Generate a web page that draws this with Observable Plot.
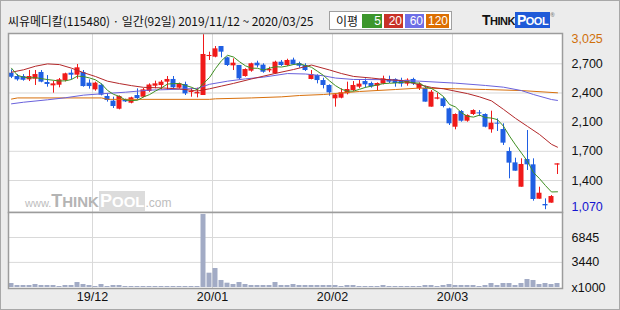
<!DOCTYPE html>
<html>
<head>
<meta charset="utf-8">
<script src="https://cdn.jsdelivr.net/npm/d3@7"></script>
<script src="https://cdn.jsdelivr.net/npm/@observablehq/plot@0.6"></script>
<style>
  html, body { margin: 0; padding: 0; background: #ececec; }
  #wrap { position: relative; width: 620px; height: 310px; background: #ececec; overflow: hidden; font-family: "Noto Sans CJK KR", sans-serif; }
  #wrap svg { position: absolute; left: 0; }
  .abs { position: absolute; }
  #title { left: 8px; top: 12px; font-size: 12px; color: #111; white-space: nowrap; letter-spacing: -0.1px; }
  #legend { left: 329px; top: 11px; width: 121px; height: 17px; background: #fff; border: 1px solid #a0a0a0; }
  #legend .lab { position: absolute; left: 6px; top: 0px; font-size: 12px; line-height: 17px; color: #111; }
  #legend .b { position: absolute; top: 2px; height: 14px; font: 12px "Liberation Sans", sans-serif; line-height: 14px; color: #fff; text-align: right; padding-right: 1px; box-sizing: border-box; }
  #logo { left: 482px; top: 12px; font: bold 14px "Liberation Sans", sans-serif; white-space: nowrap; }
  #wm { left: 25px; top: 192px; white-space: nowrap; color: #bdbdbd; font-family: "Liberation Sans", sans-serif; line-height: 18px; }
  #border { left: 0; top: 0; width: 618px; height: 308px; border: 1px solid #a8a8a8; pointer-events: none; }
</style>
</head>
<body>
<div id="wrap">
  <div id="title" class="abs">씨유메디칼(115480) · 일간(92일) 2019/11/12 ~ 2020/03/25</div>
  <div id="legend" class="abs"></div>
  <div id="logo" class="abs"><span style="color:#111;letter-spacing:-0.5px">T<span style="font-size:11px">HINK</span></span><span style="background:#1f5ad8;color:#fff;padding:0 2px;letter-spacing:-0.5px">P<span style="font-size:11px">OOL</span></span><span style="font-size:6px;color:#888;vertical-align:top">®</span></div>
</div>
<script>
// ---- data ----
const opens  = [2594,2557,2557,2520,2527,2602,2490,2453,2460,2512,2594,2572,2602,2483,2408,2460,2334,2282,2192,2296,2259,2345,2326,2390,2449,2456,2494,2524,2427,2468,2378,2363,2345,2780,2773,2892,2766,2676,2680,2557,2617,2706,2684,2620,2587,2717,2680,2740,2702,2680,2524,2568,2512,2457,2308,2315,2364,2401,2438,2501,2479,2449,2472,2524,2524,2512,2472,2524,2420,2425,2215,2304,2308,2196,1991,2166,2058,2133,2151,2133,1962,2036,1965,1720,1593,1321,1630,1571,1187,1128,1143,1568];
const highs  = [2631,2580,2578,2624,2624,2624,2568,2505,2535,2594,2631,2691,2624,2520,2494,2475,2364,2326,2341,2304,2326,2419,2423,2475,2505,2512,2557,2557,2483,2494,2427,2427,3025,2829,2892,2892,2773,2754,2680,2643,2706,2728,2699,2660,2728,2736,2750,2762,2717,2699,2624,2576,2538,2464,2363,2420,2494,2501,2512,2531,2494,2486,2561,2561,2531,2538,2531,2538,2486,2450,2401,2371,2326,2204,2140,2177,2129,2185,2177,2140,2170,2084,2029,1761,1645,1638,1954,1638,1321,1191,1228,1582];
const lows   = [2534,2505,2505,2501,2457,2487,2438,2371,2431,2497,2520,2527,2438,2416,2393,2341,2271,2200,2185,2267,2252,2297,2319,2380,2420,2408,2401,2420,2416,2345,2326,2319,2345,2736,2766,2766,2669,2624,2520,2550,2605,2654,2594,2600,2580,2669,2670,2680,2650,2613,2520,2475,2419,2337,2215,2308,2352,2390,2420,2427,2427,2390,2464,2479,2438,2438,2449,2457,2401,2271,2215,2297,2207,2010,1962,2047,2047,2122,2110,1984,1924,1943,1787,1415,1500,1321,1508,1165,1187,1070,1143,1463];
const closes = [2549,2520,2515,2557,2579,2494,2468,2475,2520,2587,2572,2654,2445,2445,2483,2349,2289,2222,2334,2274,2319,2311,2408,2462,2475,2494,2524,2431,2475,2363,2390,2378,2803,2792,2866,2829,2680,2706,2531,2635,2699,2676,2605,2635,2717,2680,2736,2688,2672,2624,2579,2512,2457,2375,2352,2375,2412,2457,2472,2464,2442,2479,2531,2494,2479,2472,2516,2475,2472,2271,2382,2319,2222,2029,2133,2058,2122,2177,2140,1991,2036,2025,1813,1590,1500,1575,1571,1184,1254,1113,1217,1582];
// volume in thousands of shares
const volumes = [548,274,274,274,411,274,274,274,137,274,274,685,411,274,137,411,137,274,274,137,137,137,137,137,137,137,137,137,137,137,137,137,10000,1960,2600,960,590,411,685,411,274,274,274,274,685,274,274,411,274,274,274,274,274,274,274,137,274,274,137,137,137,137,274,137,137,137,137,137,137,274,274,137,274,411,274,274,274,274,137,274,548,274,548,548,274,548,1096,960,411,548,411,548];
// moving averages
const ma5 = [2650,2570,2550,2542,2544,2533,2523,2515,2507,2509,2524,2562,2556,2541,2520,2475,2402,2358,2335,2294,2288,2292,2329,2355,2395,2430,2473,2477,2480,2457,2437,2407,2482,2545,2646,2734,2794,2775,2722,2676,2650,2649,2629,2650,2666,2663,2675,2691,2699,2680,2660,2615,2569,2509,2455,2414,2394,2394,2414,2436,2449,2463,2478,2482,2485,2491,2498,2487,2483,2441,2423,2384,2333,2245,2217,2152,2113,2104,2126,2098,2093,2075,2002,1892,1794,1702,1610,1484,1417,1339,1268,1270];
const ma20 = [[0,2605],[2,2632],[4,2672],[6,2698],[8,2690],[10,2650],[12,2600],[14,2557],[16,2505],[18,2478],[20,2455],[22,2436],[25,2430],[28,2418],[31,2395],[33,2420],[35,2450],[37,2480],[40,2530],[44,2592],[47,2635],[50,2685],[53,2630],[55,2590],[57,2558],[60,2540],[62,2525],[65,2512],[68,2465],[70,2435],[72,2420],[76,2366],[78,2330],[80,2285],[82,2190],[84,2090],[86,2000],[88,1910],[90,1800],[91,1768]];
const ma60 = [[0,2252],[2,2270],[6,2297],[9,2320],[12,2349],[15,2364],[19,2382],[23,2405],[28,2415],[31,2425],[33,2470],[36,2505],[39,2531],[42,2550],[46,2590],[49,2585],[52,2565],[54,2540],[57,2524],[62,2522],[68,2505],[74,2483],[79,2457],[82,2438],[85,2400],[87,2356],[90,2300],[91,2290]];
const ma120 = [[0,2305],[1,2318],[15,2318],[16,2302],[33,2302],[34,2308],[40,2318],[45,2330],[48,2345],[52,2356],[58,2390],[64,2412],[68,2428],[74,2420],[79,2412],[85,2400],[91,2375]];
// axes
const priceTicks  = [3025, 2699, 2373, 2048, 1722, 1396, 1070];
const priceLabels = ["3,025", "2,700", "2,400", "2,100", "1,700", "1,400", "1,070"];
const priceLabelColors = ["#d0700a", "#111", "#111", "#111", "#111", "#111", "#1515d0"];
const volTicks  = [6845, 3440, 0];
const volLabels = ["6845", "3440", "x1000"];
const monthStarts = [14, 34, 54, 74];
const monthLabels = ["19/12", "20/01", "20/02", "20/03"];
const legendItems = [["5", "#3c962c"], ["20", "#c83228"], ["60", "#6e6ee6"], ["120", "#dc6e00"]];

// ---- build ----
const candles = d3.range(opens.length).map(i => ({i, open: opens[i], high: highs[i], low: lows[i], close: closes[i], vol: volumes[i]}));
const up = candles.filter(d => d.close >= d.open);
const down = candles.filter(d => d.close < d.open);
const RED = "#f01a1a", BLUE = "#1f5fe3", GRID = "#d9d9d9", FRAME = "#9c9c9c";
const half = 5 / 12;
const xScale = {domain: [-0.5, 91.5], range: [8, 560], axis: null};
const numFont = "Liberation Sans, sans-serif";

const price = Plot.plot({
  width: 620, height: 212,
  marginTop: 33, marginBottom: 0, marginLeft: 8, marginRight: 58,
  x: xScale,
  y: {domain: [1070, 3025], range: [209.2, 34.1], axis: null},
  style: {background: "transparent", overflow: "visible"},
  marks: [
    Plot.frame({fill: "white", stroke: null}),
    Plot.ruleY(priceTicks.slice(1, -1), {stroke: GRID}),
    Plot.ruleX(monthStarts, {x: d => d - 0.5, stroke: GRID}),
    Plot.ruleX(up, {x: "i", y1: "low", y2: "high", stroke: RED}),
    Plot.ruleX(down, {x: "i", y1: "low", y2: "high", stroke: BLUE}),
    Plot.rect(up, {x1: d => d.i - half, x2: d => d.i + half, y1: "open", y2: "close", fill: RED}),
    Plot.rect(down, {x1: d => d.i - half, x2: d => d.i + half, y1: "open", y2: "close", fill: BLUE}),
    Plot.line(ma120, {x: d => d[0], y: d => d[1], stroke: "#d8700c", strokeWidth: 1}),
    Plot.line(ma60, {x: d => d[0], y: d => d[1], stroke: "#6a62dc", strokeWidth: 1}),
    Plot.line(ma20, {x: d => d[0], y: d => d[1], stroke: "#b3282a", strokeWidth: 1}),
    Plot.line(ma5.map((v, i) => [i, v]), {x: d => d[0], y: d => d[1], stroke: "#3f8f22", strokeWidth: 1}),
    Plot.frame({stroke: FRAME, strokeWidth: 1.5}),
    ...priceTicks.map((t, k) => Plot.text([t], {
      y: d => d, text: [priceLabels[k]], frameAnchor: "right", dx: 9, dy: k === 0 ? 4 : (k === priceTicks.length - 1 ? -3 : 0),
      textAnchor: "start", fill: priceLabelColors[k], fontSize: 12.5, fontFamily: numFont
    }))
  ]
});
price.style.top = "0px";

const vol = Plot.plot({
  width: 620, height: 98,
  marginTop: 0, marginBottom: 22, marginLeft: 8, marginRight: 58,
  x: xScale,
  y: {domain: [0, 10270], range: [75, 0], axis: null},
  style: {background: "transparent", overflow: "visible"},
  marks: [
    Plot.frame({fill: "white", stroke: null}),
    Plot.ruleY(volTicks.slice(0, 2), {stroke: GRID}),
    Plot.ruleX(monthStarts, {x: d => d - 0.5, stroke: GRID}),
    Plot.rect(candles, {x1: d => d.i - half, x2: d => d.i + half, y1: 0, y2: "vol", fill: "#a2abc5"}),
    Plot.frame({stroke: FRAME, strokeWidth: 1.5}),
    Plot.text(volTicks, {y: d => d, text: (d, k) => volLabels[k], frameAnchor: "right", dx: 9, textAnchor: "start", fill: "#111", fontSize: 12.5, fontFamily: numFont}),
    Plot.text(monthStarts, {x: d => d - 0.5, text: (d, k) => monthLabels[k], frameAnchor: "bottom", dy: 12, fill: "#111", fontSize: 12.5, fontFamily: numFont})
  ]
});
vol.style.top = "212px";

const wrap = document.getElementById("wrap");
wrap.appendChild(price);
wrap.appendChild(vol);

// legend
const legend = document.getElementById("legend");
const lab = document.createElement("div");
lab.className = "lab"; lab.textContent = "이평";
legend.appendChild(lab);
const lefts = [32, 54, 75, 96], widths = [20, 19, 19, 23];
legendItems.forEach(([t, c], k) => {
  const b = document.createElement("div");
  b.className = "b"; b.textContent = t;
  b.style.left = lefts[k] + "px"; b.style.width = widths[k] + "px"; b.style.background = c;
  legend.appendChild(b);
});

// watermark
const wm = document.createElement("div");
wm.id = "wm"; wm.className = "abs";
wm.innerHTML = '<span style="font-size:11px">www.</span><span style="font-weight:900;font-size:18px;letter-spacing:0px;color:#b4b4b4">T<span style="font-size:15px">HINK</span></span><span style="font-weight:bold;font-size:18px;letter-spacing:0px;color:#fff;background:#dcdcdc;padding:0 1px">P<span style="font-size:15px">OOL</span></span><span style="font-size:12px">.com</span>';
wrap.appendChild(wm);

const border = document.createElement("div");
border.id = "border"; border.className = "abs";
wrap.appendChild(border);
</script>
</body>
</html>
